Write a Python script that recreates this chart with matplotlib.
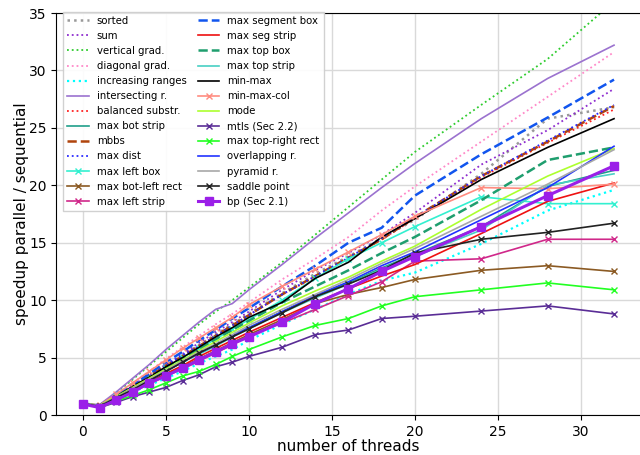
import numpy as np
import matplotlib
matplotlib.use("Agg")
import matplotlib.pyplot as plt

# thread counts
threads = [0, 1, 2, 3, 4, 5, 6, 7, 8, 9, 10, 12, 14, 16, 18, 20, 24, 28, 32]

# speedups
sorted_v = [1.0, 0.8, 1.7, 2.5, 3.4, 4.3, 5.2, 6.1, 7.0, 7.9, 8.8, 10.6, 12.3, 13.8, 15.4, 17.0, 21.0, 25.8, 26.8]
sum_v = [1.0, 0.8, 1.7, 2.6, 3.5, 4.4, 5.3, 6.3, 7.2, 8.1, 9.0, 10.9, 12.6, 14.1, 15.7, 17.6, 21.8, 24.8, 28.4]
vert_grad = [1.0, 0.85, 1.9, 3.1, 4.3, 5.5, 6.7, 7.9, 9.0, 10.0, 11.1, 13.3, 15.7, 18.1, 20.5, 22.9, 27.0, 31.0, 36.0]
diag_grad = [1.0, 0.85, 1.8, 2.8, 3.8, 4.9, 5.9, 6.9, 7.9, 8.8, 9.8, 11.8, 13.6, 15.5, 17.8, 19.9, 23.8, 27.7, 31.6]
incr_ranges = [1.0, 0.8, 1.4, 2.0, 2.6, 3.2, 3.8, 4.5, 5.1, 5.7, 6.5, 7.9, 9.2, 10.5, 11.7, 12.4, 14.9, 17.8, 19.6]
inter_r = [1.0, 0.9, 2.0, 3.2, 4.4, 5.7, 6.9, 8.1, 9.2, 9.7, 10.9, 13.1, 15.4, 17.6, 19.8, 21.9, 25.8, 29.3, 32.2]
balanced = [1.0, 0.8, 1.7, 2.5, 3.4, 4.3, 5.1, 6.0, 6.9, 7.8, 8.7, 10.5, 12.0, 13.6, 15.3, 17.1, 20.7, 23.7, 26.6]
bot_strip = [1.0, 0.8, 1.5, 2.3, 3.1, 3.9, 4.6, 5.4, 6.1, 6.9, 7.6, 9.0, 10.3, 11.5, 12.8, 14.0, 16.4, 19.9, 21.3]
mbbs = [1.0, 0.8, 1.7, 2.5, 3.4, 4.3, 5.1, 6.0, 6.9, 7.8, 8.7, 10.5, 12.1, 13.7, 15.3, 17.2, 20.8, 23.8, 26.9]
max_dist = [1.0, 0.8, 1.7, 2.5, 3.4, 4.3, 5.2, 6.0, 6.9, 7.8, 8.7, 10.5, 12.1, 13.7, 15.4, 17.2, 20.8, 23.9, 27.0]
left_box = [1.0, 0.8, 1.6, 2.5, 3.3, 4.1, 5.0, 5.8, 6.6, 7.5, 8.3, 10.0, 11.9, 13.6, 15.0, 16.4, 19.0, 18.4, 18.4]
bot_left_rect = [1.0, 0.7, 1.4, 2.1, 2.8, 3.5, 4.2, 4.9, 5.6, 6.3, 7.0, 8.3, 9.7, 10.5, 11.1, 11.8, 12.6, 13.0, 12.5]
left_strip = [1.0, 0.7, 1.3, 2.0, 2.7, 3.4, 4.0, 4.7, 5.4, 6.1, 6.9, 8.0, 9.2, 10.4, 11.6, 13.4, 13.6, 15.3, 15.3]
seg_box = [1.0, 0.8, 1.7, 2.6, 3.6, 4.6, 5.5, 6.5, 7.4, 8.4, 9.3, 11.2, 13.0, 15.0, 16.3, 19.1, 22.7, 25.9, 29.2]
seg_strip = [1.0, 0.75, 1.4, 2.1, 2.9, 3.6, 4.3, 5.1, 5.8, 6.5, 7.2, 8.5, 9.8, 11.0, 12.1, 13.1, 15.8, 18.6, 20.2]
top_box = [1.0, 0.85, 1.6, 2.4, 3.2, 4.1, 4.9, 5.7, 6.6, 7.4, 8.2, 9.8, 11.2, 12.6, 14.1, 15.5, 18.7, 22.2, 23.3]
top_strip = [1.0, 0.8, 1.5, 2.3, 3.0, 3.8, 4.6, 5.3, 6.0, 6.8, 7.5, 8.9, 10.2, 11.4, 12.7, 13.8, 16.1, 20.0, 21.0]
min_max = [1.0, 0.8, 1.6, 2.5, 3.3, 4.2, 5.0, 5.9, 6.8, 7.6, 8.5, 9.8, 11.9, 13.3, 15.5, 17.1, 20.5, 23.3, 25.8]
min_max_col = [1.0, 0.85, 1.8, 2.8, 3.8, 4.8, 5.8, 6.7, 7.6, 8.5, 9.6, 11.2, 12.7, 14.2, 15.7, 17.3, 19.8, 19.7, 20.1]
mode = [1.0, 0.85, 1.6, 2.4, 3.2, 4.0, 4.8, 5.6, 6.4, 7.2, 8.0, 9.5, 10.8, 12.0, 13.4, 14.7, 17.9, 20.8, 23.2]
mtls = [1.0, 0.65, 1.1, 1.6, 2.0, 2.4, 3.0, 3.5, 4.2, 4.6, 5.1, 5.9, 7.0, 7.4, 8.4, 8.6, 9.05, 9.5, 8.8]
top_right_rect = [1.0, 0.65, 1.2, 1.7, 2.2, 2.8, 3.4, 3.8, 4.4, 5.1, 5.7, 6.8, 7.8, 8.4, 9.5, 10.3, 10.9, 11.5, 10.9]
overlap_r = [1.0, 0.8, 1.5, 2.3, 3.0, 3.8, 4.6, 5.4, 6.1, 6.9, 7.6, 9.0, 10.4, 11.6, 13.0, 14.2, 17.0, 19.8, 23.4]
pyramid_r = [1.0, 0.8, 1.5, 2.3, 3.1, 3.9, 4.7, 5.5, 6.2, 7.0, 7.8, 9.2, 10.5, 11.8, 13.2, 14.5, 17.3, 20.1, 23.1]
saddle = [1.0, 0.75, 1.5, 2.2, 3.0, 3.8, 4.6, 5.4, 6.1, 6.8, 7.5, 8.9, 10.3, 11.4, 12.6, 14.1, 15.3, 15.9, 16.7]
bp = [0.95, 0.65, 1.3, 2.0, 2.8, 3.4, 4.1, 4.8, 5.5, 6.2, 6.8, 8.1, 9.7, 11.0, 12.5, 13.8, 16.4, 19.1, 21.7]

fig = plt.figure(figsize=(6.4, 4.55), dpi=100)
# axes runs slightly past the right edge of the picture, like the reference
ax = fig.add_axes([0.0881, 0.0879, 0.9128, 0.8835])

lw = 1.2
ax.plot(threads, sorted_v, ':', color='#999999', lw=1.8, label='sorted')
ax.plot(threads, sum_v, ':', color='#8e2ccf', lw=1.3, label='sum')
ax.plot(threads, vert_grad, ':', color='#2ecc2e', lw=1.3, label='vertical grad.')
ax.plot(threads, diag_grad, ':', color='#ff88c8', lw=1.3, label='diagonal grad.')
ax.plot(threads, incr_ranges, ':', color='#00ffff', lw=1.6, label='increasing ranges')
ax.plot(threads, inter_r, '-', color='#9b72cf', lw=lw, label='intersecting r.')
ax.plot(threads, balanced, ':', color='#ff2222', lw=1.3, label='balanced substr.')
ax.plot(threads, bot_strip, '-', color='#1f9e8a', lw=lw, label='max bot strip')
ax.plot(threads, mbbs, '--', color='#b0440c', lw=1.8, label='mbbs')
ax.plot(threads, max_dist, ':', color='#2b2bff', lw=1.3, label='max dist')
ax.plot(threads, left_box, '-x', color='#33f0d0', lw=lw, ms=5, label='max left box')
ax.plot(threads, bot_left_rect, '-x', color='#8b5a23', lw=lw, ms=5, label='max bot-left rect')
ax.plot(threads, left_strip, '-x', color='#d0288a', lw=lw, ms=5, label='max left strip')
ax.plot(threads, seg_box, '--', color='#1155ee', lw=1.8, label='max segment box')
ax.plot(threads, seg_strip, '-', color='#ee1111', lw=lw, label='max seg strip')
ax.plot(threads, top_box, '--', color='#1f9e6e', lw=1.8, label='max top box')
ax.plot(threads, top_strip, '-', color='#48d0c4', lw=lw, label='max top strip')
ax.plot(threads, min_max, '-', color='black', lw=lw, label='min-max')
ax.plot(threads, min_max_col, '-x', color='#ff8c80', lw=lw, ms=5, label='min-max-col')
ax.plot(threads, mode, '-', color='#adff2f', lw=lw, label='mode')
ax.plot(threads, mtls, '-x', color='#5a2d96', lw=lw, ms=5, label='mtls (Sec 2.2)')
ax.plot(threads, top_right_rect, '-x', color='#22ff22', lw=lw, ms=5, label='max top-right rect')
ax.plot(threads, overlap_r, '-', color='#2233ff', lw=lw, label='overlapping r.')
ax.plot(threads, pyramid_r, '-', color='#a8a8a8', lw=lw, label='pyramid r.')
ax.plot(threads, saddle, '-x', color='#222222', lw=lw, ms=5, label='saddle point')
ax.plot(threads, bp, '-s', color='#9b1fe8', lw=2.2, ms=6, label='bp (Sec 2.1)')

ax.set_xlim(-1.6, 33.6)
ax.set_ylim(0, 35)
ax.set_xticks(np.arange(0, 31, 5))
ax.set_yticks(np.arange(0, 36, 5))
ax.grid(True, color='#d9d9d9', lw=1.0)
ax.set_axisbelow(True)
ax.tick_params(labelsize=10)
ax.set_xlabel('number of threads', fontsize=11, labelpad=0)
ax.set_ylabel('speedup parallel / sequential', fontsize=11, labelpad=0)

ax.legend(loc='upper left', bbox_to_anchor=(0.012, 1.003), borderaxespad=0.0,
          ncol=2, fontsize=7.3, handlelength=2.1, handletextpad=0.8,
          columnspacing=1.1, labelspacing=0.5, framealpha=0.9, fancybox=False)

fig.savefig('out.png', dpi=100)
